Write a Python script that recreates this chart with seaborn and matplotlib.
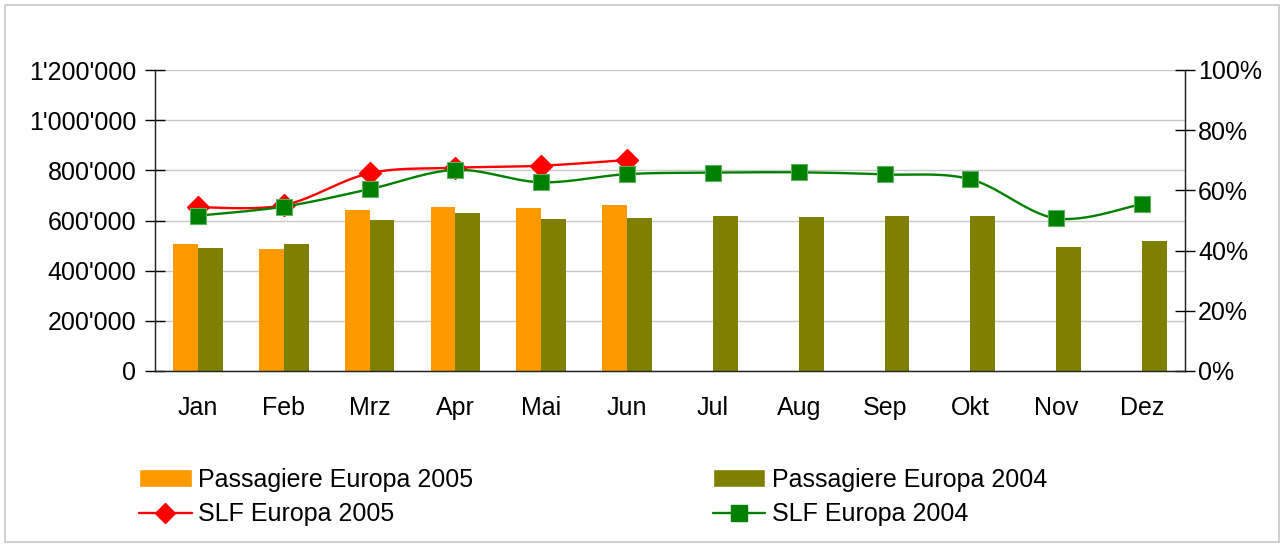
import numpy as np
import pandas as pd
import matplotlib
matplotlib.use("Agg")
import matplotlib.pyplot as plt
import seaborn as sns
from matplotlib.patches import Patch, Rectangle
from matplotlib.lines import Line2D
from matplotlib.ticker import FuncFormatter, MultipleLocator

months = ["Jan", "Feb", "Mrz", "Apr", "Mai", "Jun", "Jul", "Aug", "Sep", "Okt", "Nov", "Dez"]
pax_2005 = [505000, 486000, 642000, 654000, 650000, 662000, np.nan, np.nan, np.nan, np.nan, np.nan, np.nan]
pax_2004 = [490000, 505000, 602000, 631000, 606000, 610000, 618000, 614000, 618000, 618000, 494000, 519000]
slf_2005 = [0.544, 0.551, 0.657, 0.675, 0.682, 0.701]
slf_2004 = [0.516, 0.546, 0.604, 0.668, 0.627, 0.654, 0.659, 0.660, 0.653, 0.637, 0.507, 0.555]

ORANGE = "#FF9900"
OLIVE = "#808000"
RED = "#FF0000"
GREEN = "#008000"
FS = 18


def smooth(y, n=30):
    # bezier smoothing like the office "smoothed line" option
    y = np.asarray(y, dtype=float)
    x = np.arange(len(y), dtype=float)
    xs, ys = [], []
    for i in range(len(y) - 1):
        i0 = max(i - 1, 0)
        i3 = min(i + 2, len(y) - 1)
        p0, p1, p2, p3 = [np.array([x[k], y[k]]) for k in (i0, i, i + 1, i3)]
        c1 = p1 + (p2 - p0) / 6
        c2 = p2 - (p3 - p1) / 6
        t = np.linspace(0, 1, n)[:, None]
        pts = (1 - t) ** 3 * p1 + 3 * (1 - t) ** 2 * t * c1 + 3 * (1 - t) * t ** 2 * c2 + t ** 3 * p2
        xs.extend(pts[:, 0])
        ys.extend(pts[:, 1])
    return np.array(xs), np.array(ys)


df = pd.DataFrame({
    "Monat": months * 2,
    "Jahr": ["2005"] * 12 + ["2004"] * 12,
    "Passagiere": pax_2005 + pax_2004,
})

sns.set_style("white")
plt.rcParams["font.family"] = ["Liberation Sans", "DejaVu Sans"]
plt.rcParams["text.color"] = "black"

fig = plt.figure(figsize=(12.84, 5.47), dpi=100)
fig.patches.append(Rectangle((5 / 1284, 5 / 547), 1274 / 1284, 537 / 547, transform=fig.transFigure,
                             fill=False, edgecolor="#C8C8C8", linewidth=1.2))
ax = fig.add_axes([155 / 1284, (547 - 371) / 547, 1030 / 1284, 301 / 547])

sns.barplot(data=df, x="Monat", y="Passagiere", hue="Jahr", order=months, hue_order=["2005", "2004"],
            palette={"2005": ORANGE, "2004": OLIVE}, width=0.58, errorbar=None, saturation=1,
            linewidth=0, edgecolor="none", ax=ax, legend=False, zorder=2)

ax.set_xlim(-0.5, 11.5)
ax.set_ylim(0, 1200000)
ax.yaxis.set_major_locator(MultipleLocator(200000))
ax.yaxis.set_major_formatter(FuncFormatter(lambda v, p: f"{int(v):,}".replace(",", "'")))
ax.set_xlabel("")
ax.set_ylabel("")
ax.grid(axis="y", color="#C8C8C8", linewidth=1, zorder=0)
ax.set_axisbelow(True)
ax.set_xticks(range(12))
ax.set_xticklabels(months)
ax.set_xticks(np.arange(-0.5, 12, 1), minor=True)
ax.tick_params(axis="x", which="major", length=0, pad=18, labelsize=FS, colors="black")
ax.tick_params(axis="x", which="minor", length=14, direction="inout", width=1, color="black")
ax.tick_params(axis="y", which="major", length=15, direction="inout", width=1, pad=6,
               labelsize=FS, color="black", labelcolor="black")
for s in ["left", "bottom", "right"]:
    ax.spines[s].set_color("#222222")
    ax.spines[s].set_linewidth(1)
ax.spines["top"].set_visible(False)

ax2 = ax.twinx()
ax2.set_ylim(0, 1.0)
ax2.yaxis.set_major_locator(MultipleLocator(0.2))
ax2.yaxis.set_major_formatter(FuncFormatter(lambda v, p: f"{v * 100:.0f}%"))
ax2.tick_params(axis="y", length=15, direction="inout", width=1, pad=2, labelsize=FS,
                color="black", labelcolor="black")
ax2.spines["top"].set_visible(False)
ax2.spines["right"].set_color("#222222")

xr, yr = smooth(slf_2005)
ax2.plot(xr, yr, color=RED, linewidth=1.7, zorder=3)
ax2.plot(range(len(slf_2005)), slf_2005, linestyle="none", marker="D", markersize=11,
         color=RED, markeredgecolor=RED, zorder=4)
xg, yg = smooth(slf_2004)
ax2.plot(xg, yg, color=GREEN, linewidth=1.7, zorder=5)
ax2.plot(range(len(slf_2004)), slf_2004, linestyle="none", marker="s", markersize=12,
         color=GREEN, markeredgecolor="#5FB05F", markeredgewidth=0.8, zorder=6)

handles = [
    Patch(facecolor=ORANGE, label="Passagiere Europa 2005"),
    Line2D([], [], color=RED, marker="D", markersize=10, linewidth=1.7, label="SLF Europa 2005"),
    Patch(facecolor=OLIVE, label="Passagiere Europa 2004"),
    Line2D([], [], color=GREEN, marker="s", markersize=11, linewidth=1.7, label="SLF Europa 2004"),
]
fig.legend(handles=handles, ncol=2, loc="upper left", bbox_to_anchor=(129 / 1284, 1 - 458 / 547),
           frameon=False, fontsize=FS, handlelength=2.1, handleheight=0.75, handletextpad=0.25,
           columnspacing=9.6, labelspacing=0.42, borderaxespad=0)

fig.savefig("out.png", dpi=100)
